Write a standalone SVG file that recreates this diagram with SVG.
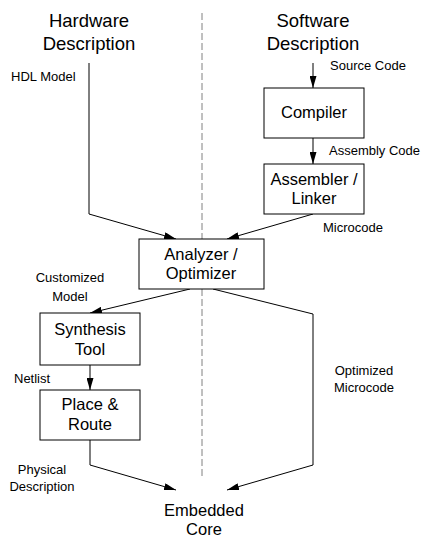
<svg xmlns="http://www.w3.org/2000/svg" width="423" height="538" viewBox="0 0 423 538">
<style>
.box{fill:#fff;stroke:#000;stroke-width:1}
.t{font-family:"Liberation Sans",Arial,sans-serif;fill:#000;text-anchor:middle}
.s{text-anchor:start}
.big{font-size:18.5px}
.bx{font-size:16.5px}
.sm{font-size:13px}
.ln{fill:none;stroke:#000;stroke-width:1}
</style>
<defs>
<marker id="ah" viewBox="0 0 12 7" refX="12" refY="3.5" markerWidth="12" markerHeight="7" markerUnits="userSpaceOnUse" orient="auto">
<path d="M0,0 L12,3.5 L0,7 Z" fill="#000"/>
</marker>
</defs>
<rect width="423" height="538" fill="#fff"/>
<g id="divider">
<line x1="202" y1="13" x2="202" y2="239" stroke="#808080" stroke-width="1" stroke-dasharray="7,3"/>
<line x1="202" y1="289" x2="202" y2="478" stroke="#808080" stroke-width="1" stroke-dasharray="7,3"/>
</g>
<g id="hw-title"><text class="t big" x="89" y="27">Hardware</text><text class="t big" x="89" y="50">Description</text></g>
<g id="sw-title"><text class="t big" x="313" y="27">Software</text><text class="t big" x="313" y="50">Description</text></g>
<g id="connectors">
<line class="ln" x1="313" y1="63" x2="313" y2="88" marker-end="url(#ah)"/>
<line class="ln" x1="313" y1="138" x2="313" y2="164" marker-end="url(#ah)"/>
<polyline class="ln" points="89,63 89,214 176,239" marker-end="url(#ah)"/>
<line class="ln" x1="313" y1="214" x2="227" y2="239" marker-end="url(#ah)"/>
<line class="ln" x1="190" y1="289" x2="90" y2="313" marker-end="url(#ah)"/>
<line class="ln" x1="90" y1="365" x2="90" y2="390" marker-end="url(#ah)"/>
<polyline class="ln" points="90,440 90,465 176,490" marker-end="url(#ah)"/>
<polyline class="ln" points="213,289 313,314 313,465 227,490" marker-end="url(#ah)"/>
</g>
<g id="labels">
<text class="t sm s" x="11" y="81">HDL Model</text>
<text class="t sm s" x="330" y="70">Source Code</text>
<text class="t sm s" x="329" y="155">Assembly Code</text>
<text class="t sm s" x="323" y="232">Microcode</text>
<text class="t sm" x="70" y="282">Customized</text>
<text class="t sm" x="70" y="301">Model</text>
<text class="t sm s" x="14" y="383">Netlist</text>
<text class="t sm" x="364" y="375">Optimized</text>
<text class="t sm" x="364" y="392">Microcode</text>
<text class="t sm" x="42" y="474">Physical</text>
<text class="t sm" x="42" y="491">Description</text>
</g>
<g id="compiler"><rect class="box" x="264" y="88" width="100" height="50"/><text class="t bx" x="314" y="118">Compiler</text></g>
<g id="assembler"><rect class="box" x="264" y="164" width="100" height="50"/><text class="t bx" x="314" y="185">Assembler /</text><text class="t bx" x="314" y="204">Linker</text></g>
<g id="analyzer"><rect class="box" x="139" y="239" width="125" height="50"/><text class="t bx" x="201" y="260">Analyzer /</text><text class="t bx" x="201" y="279">Optimizer</text></g>
<g id="synthesis"><rect class="box" x="40" y="313" width="100" height="52"/><text class="t bx" x="90" y="335">Synthesis</text><text class="t bx" x="90" y="355">Tool</text></g>
<g id="place-route"><rect class="box" x="40" y="390" width="100" height="50"/><text class="t bx" x="90" y="410">Place &amp;</text><text class="t bx" x="90" y="430">Route</text></g>
<g id="embedded-core"><text class="t bx" x="204" y="516">Embedded</text><text class="t bx" x="204" y="535">Core</text></g>
</svg>
